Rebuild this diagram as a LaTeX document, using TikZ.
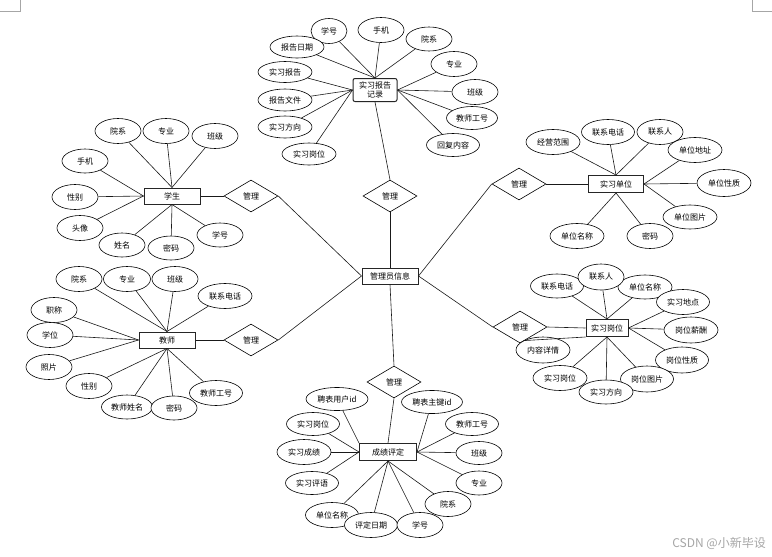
\documentclass[tikz,border=0pt]{standalone}
\usepackage{fontspec}
\setmainfont{Noto Sans CJK SC}
\usetikzlibrary{shapes.geometric}
\begin{document}
\begin{tikzpicture}[x=1pt,y=-1pt,
  every node/.style={font=\fontsize{8}{9}\selectfont, inner sep=0pt},
  entbox/.style={rectangle, draw=black!85, line width=1pt, fill=white, minimum width=56pt, minimum height=16pt},
  relbox/.style={diamond, draw=black, line width=0.6pt, fill=white, aspect=1.7, minimum width=54pt, minimum height=32pt},
  attr/.style={ellipse, draw=black, line width=0.6pt, fill=white, minimum width=46pt, minimum height=25pt},
  attrw/.style={attr, minimum width=54pt, minimum height=24pt},
  attrx/.style={attr, minimum width=62pt, minimum height=23pt},
  lk/.style={draw=black!90, line width=0.6pt}
]
\useasboundingbox (0,0) rectangle (772,557);
\fill[white] (0,0) rectangle (772,557);
% page corner marks
\draw[black!35, line width=0.6pt] (20,0) -- (20,11.5) -- (0,11.5);
\draw[black!35, line width=0.6pt] (752,0) -- (752,11.5) -- (772,11.5);

% central
\node[entbox] (adm) at (390,276) {管理员信息};
\node[relbox] (d1) at (251,196) {管理};
\node[relbox] (d2) at (390,196) {管理};
\node[relbox] (d3) at (519,184) {管理};
\node[relbox] (d4) at (251,340) {管理};
\node[relbox] (d5) at (520,327) {管理};
\node[relbox] (d6) at (394,382) {管理};

% entities
\node[entbox] (stu) at (172,196) {学生};
\node[entbox, rounded corners=2pt, minimum width=44pt, minimum height=23pt, align=center] (r0) at (375,90) {实习报告\\记录};
\node[entbox, minimum width=55pt, minimum height=17pt] (unit) at (616,184) {实习单位};
\node[entbox] (tea) at (167,340) {教师};
\node[entbox, minimum width=42pt, minimum height=17pt] (gw) at (607,328) {实习岗位};
\node[entbox, minimum width=57pt, minimum height=17pt] (cj) at (388,452) {成绩评定};

\path[lk] (d1.east) -- (adm.west);
\path[lk] (d4.east) -- (adm.west);
\path[lk] (d2.south) -- (adm.north);
\path[lk] (d3.west) -- (adm.east);
\path[lk] (d5.west) -- (adm.east);
\path[lk] (d6.north) -- (adm.south);
\path[lk] (stu.east) -- (d1.west);
\path[lk] (r0.south) -- (d2.north);
\path[lk] (unit.west) -- (d3.east);
\path[lk] (tea.east) -- (d4.west);
\path[lk] (gw.west) -- (d5.east);
\path[lk] (cj.north) -- (d6.south);

% 实习报告记录 attributes
\node[attr, minimum width=36pt] (r1) at (329,31) {学号};
\node[attr] (r2) at (381,30) {手机};
\node[attr, minimum height=24pt] (r3) at (429,39) {院系};
\node[attrw, minimum height=22pt] (r4) at (297,47) {报告日期};
\node[attr] (r5) at (454,64) {专业};
\node[attr] (r6) at (475,92) {班级};
\node[attrw, minimum width=51pt, minimum height=23pt] (r7) at (472,118) {教师工号};
\node[attrw, minimum width=53pt, minimum height=23pt] (r8) at (453,145) {回复内容};
\node[attrw, minimum height=21pt] (r9) at (285,72) {实习报告};
\node[attrw, minimum height=22pt] (r10) at (285,100) {报告文件};
\node[attrw, minimum height=22pt] (r11) at (285,127) {实习方向};
\node[attrw, minimum height=22pt] (r12) at (309,154) {实习岗位};
\foreach \n in {r1,r2,r3,r4} \path[lk] (\n) -- (r0.north);
\foreach \n in {r5,r6,r7,r8} \path[lk] (\n) -- (r0.east);
\foreach \n in {r9,r10,r11,r12} \path[lk] (\n) -- (r0.west);

% 学生 attributes
\node[attr] (s1) at (118,131) {院系};
\node[attr] (s2) at (166,131) {专业};
\node[attr] (s3) at (215,136) {班级};
\node[attr, minimum height=24pt] (s4) at (85,161) {手机};
\node[attr] (s5) at (75,197) {性别};
\node[attr] (s6) at (80,228) {头像};
\node[attr, minimum height=24pt] (s7) at (122,245) {姓名};
\node[attr, minimum height=24pt] (s8) at (171,248) {密码};
\node[attr, minimum height=24pt] (s9) at (220,235) {学号};
\foreach \n in {s1,s2,s3} \path[lk] (\n) -- (stu.north);
\foreach \n in {s4,s5,s6} \path[lk] (\n) -- (stu.west);
\foreach \n in {s7,s8,s9} \path[lk] (\n) -- (stu.south);

% 实习单位 attributes
\node[attrw, minimum height=25pt] (u1) at (553,142) {经营范围};
\node[attrw, minimum width=53pt, minimum height=25pt] (u2) at (608,132) {联系电话};
\node[attr] (u3) at (660,132) {联系人};
\node[attrw, minimum height=25pt] (u4) at (695,150) {单位地址};
\node[attrw, minimum height=27pt] (u5) at (724,183) {单位性质};
\node[attrw] (u6) at (690,217) {单位图片};
\node[attr] (u7) at (650,236) {密码};
\node[attrw, minimum height=25pt] (u8) at (577,236) {单位名称};
\foreach \n in {u1,u2,u3} \path[lk] (\n) -- (unit.north);
\foreach \n in {u4,u5,u6} \path[lk] (\n) -- (unit.east);
\foreach \n in {u7,u8} \path[lk] (\n) -- (unit.south);

% 教师 attributes
\node[attr] (t1) at (79,279) {院系};
\node[attr, minimum width=47pt] (t2) at (127,279) {专业};
\node[attr] (t3) at (175,279) {班级};
\node[attrw, minimum height=25pt] (t4) at (225,296) {联系电话};
\node[attr] (t5) at (54,310) {职称};
\node[attr] (t6) at (50,335) {学位};
\node[attr] (t7) at (49,367) {照片};
\node[attr] (t8) at (89,386) {性别};
\node[attrw, minimum width=51pt] (t9) at (127,407) {教师姓名};
\node[attr, minimum height=24pt] (t10) at (174,408) {密码};
\node[attrw, minimum width=53pt, minimum height=25pt] (t11) at (216,393) {教师工号};
\foreach \n in {t1,t2,t3,t4} \path[lk] (\n) -- (tea.north);
\foreach \n in {t5,t6,t7} \path[lk] (\n) -- (tea.west);
\foreach \n in {t8,t9,t10,t11} \path[lk] (\n) -- (tea.south);

% 实习岗位 attributes
\node[attrw, minimum width=53pt] (g1) at (557,286) {联系电话};
\node[attrw] (g3) at (645,287) {单位名称};
\node[attr, minimum height=26pt] (g2) at (601,277) {联系人};
\node[attrw, minimum width=53pt, minimum height=25pt] (g4) at (683,302) {实习地点};
\node[attrw, minimum height=26pt] (g5) at (691,330) {岗位薪酬};
\node[attrw, minimum width=53pt, minimum height=26pt] (g6) at (682,360) {岗位性质};
\node[attrw, minimum width=53pt, minimum height=26pt] (g7) at (647,379) {岗位图片};
\node[attrw, minimum height=25pt] (g9) at (560,378) {实习岗位};
\node[attrw] (g8) at (606,392) {实习方向};
\node[attrw, minimum height=26pt] (g10) at (543,350) {内容详情};
\foreach \n in {g1,g2,g3} \path[lk] (\n) -- (gw.north);
\foreach \n in {g4,g5,g6} \path[lk] (\n) -- (gw.east);
\foreach \n in {g7,g8,g9} \path[lk] (\n) -- (gw.south);
\path[lk] (g10.north west) -- (gw.south west);

% 成绩评定 attributes
\node[attrx] (c1) at (337,399) {聘表用户id};
\node[attrx, minimum width=61pt] (c2) at (432,402) {聘表主键id};
\node[attrw, minimum width=53pt, minimum height=23pt] (c3) at (313,424) {实习岗位};
\node[attrw, minimum width=53pt, minimum height=23pt] (c4) at (472,424) {教师工号};
\node[attrw, minimum height=25pt] (c5) at (304,452) {实习成绩};
\node[attr, minimum height=23pt] (c6) at (479,453) {班级};
\node[attrw, minimum width=53pt, minimum height=23pt] (c7) at (312,483) {实习评语};
\node[attr, minimum height=24pt] (c8) at (479,483) {专业};
\node[attr] (c9) at (448,504) {院系};
\node[attrw, minimum width=53pt, minimum height=25pt] (c10) at (332,515) {单位名称};
\node[attrw, minimum width=53pt, minimum height=25pt] (c11) at (371,525) {评定日期};
\node[attr] (c12) at (420,525) {学号};
\path[lk] (c1) -- (cj.north west);
\foreach \n in {c3,c5,c7} \path[lk] (\n) -- (cj.west);
\foreach \n in {c2,c4,c6,c8} \path[lk] (\n) -- (cj.east);
\foreach \n in {c9,c10,c11,c12} \path[lk] (\n) -- (cj.south);

% watermark
\node[anchor=east, text=black!35, font=\fontsize{12}{12}\selectfont] (wm) at (766,543) {CSDN @小新毕设};
\end{tikzpicture}
\end{document}
